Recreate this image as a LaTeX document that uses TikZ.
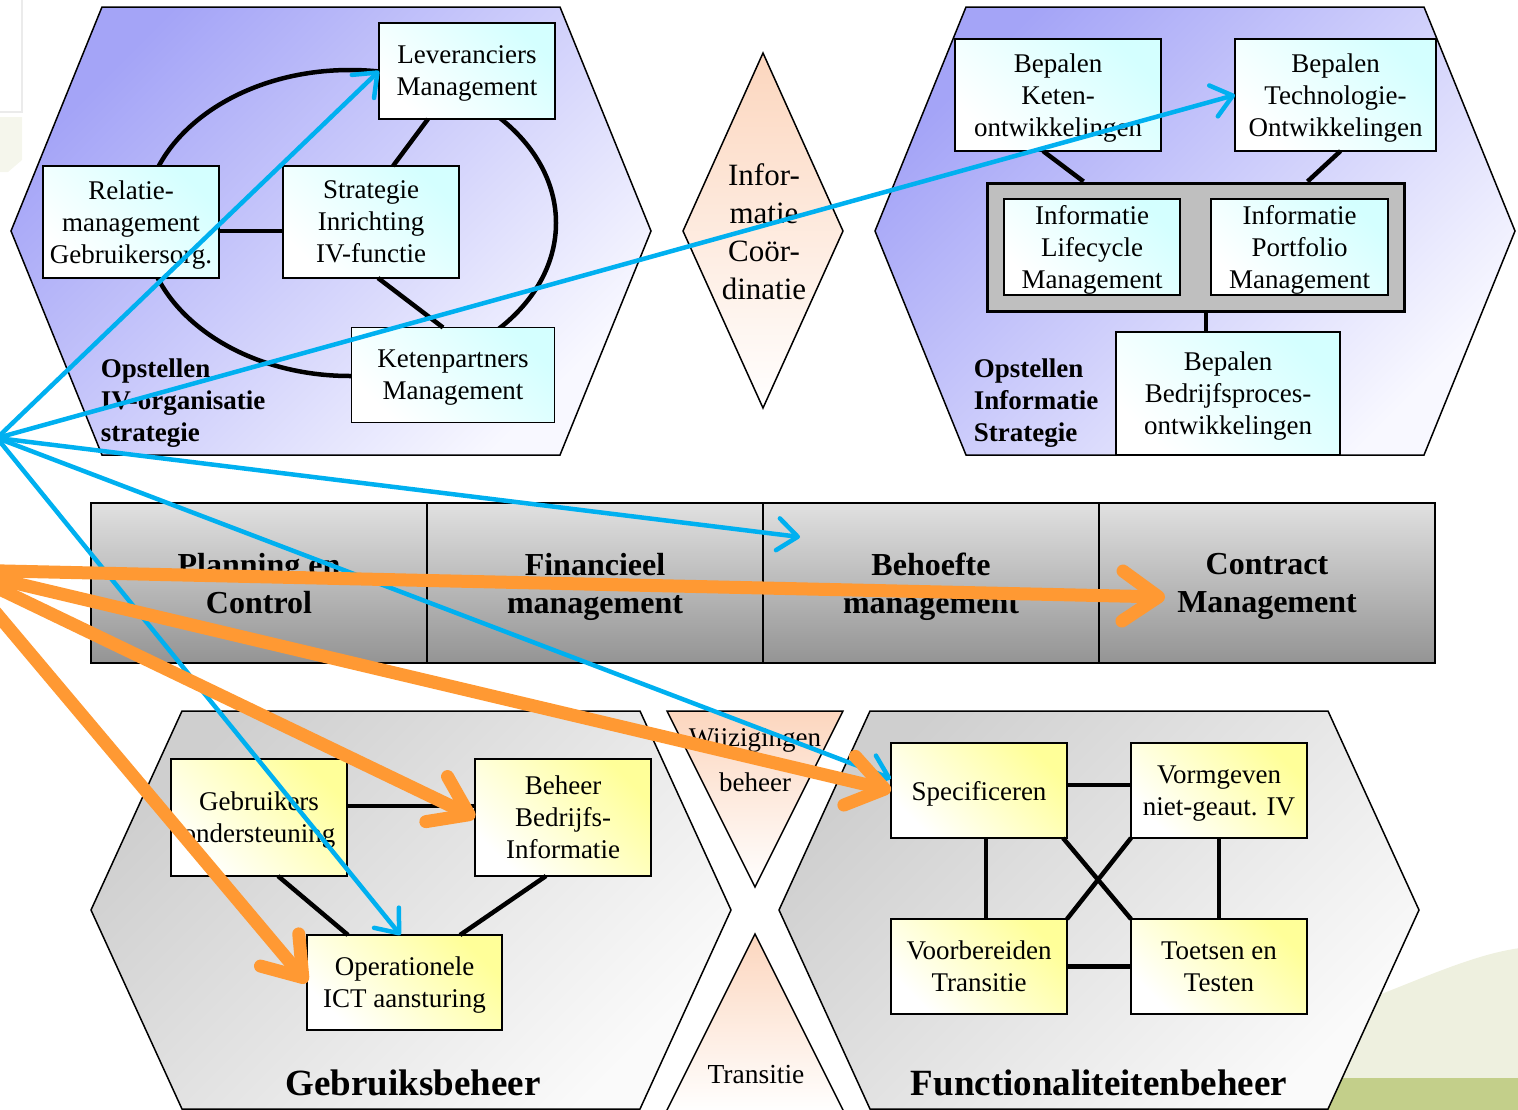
\documentclass[tikz,border=0pt]{standalone}
\usepackage{fontspec}
\setmainfont{Liberation Serif}
\usetikzlibrary{positioning,arrows.meta}
\definecolor{paars}{HTML}{A4A4F7}
\definecolor{lichtpaars}{HTML}{F8F8FF}
\definecolor{grijs}{HTML}{CFCFCF}
\definecolor{lichtgrijs}{HTML}{FAFAFA}
\definecolor{cyaan}{HTML}{D4FFFF}
\definecolor{geel}{HTML}{FFFF99}
\definecolor{perzik}{HTML}{FCD6BE}
\definecolor{blauwpijl}{HTML}{00B0F0}
\definecolor{oranjepijl}{HTML}{FF9933}
\definecolor{lichtgroen}{HTML}{EEF0DF}
\definecolor{groen}{HTML}{C3CF8A}

\tikzset{every picture/.style={line width=1.8pt}}

\begin{document}
\begin{tikzpicture}[x=1pt,y=-1pt,
		vak/.style={shape=rectangle,draw,align=center,inner sep=2pt,outer sep=0pt,
			minimum width=176pt,minimum height=96pt,font=\fontsize{27}{32}\selectfont,text depth=-4pt},
		cvak/.style={vak,top color=cyaan,bottom color=white,shading angle=-45},
		gvak/.style={vak,top color=geel,bottom color=white,shading angle=-45},
		balk/.style={shape=rectangle,draw,outer sep=0pt,minimum width=336pt,minimum height=160pt,
			top color=black!12,bottom color=black!42,align=center,font=\bfseries\fontsize{32}{38}\selectfont,
			text depth=-6pt},
		kop/.style={align=left,inner sep=0pt,font=\bfseries\fontsize{27}{32}\selectfont},
		titel/.style={inner sep=0pt,font=\bfseries\fontsize{37}{40}\selectfont},
		driehoek/.style={draw,line width=1.5pt,top color=perzik,bottom color=white},
		lijn/.style={line width=4.5pt},
		pijlb/.style={draw=blauwpijl,line width=4.5pt,-{Straight Barb[length=20pt,width=32pt,round]}},
		pijlo/.style={draw=oranjepijl,line width=13pt,-{Straight Barb[length=36pt,width=50pt,round]}}
	]
	\useasboundingbox (0,0) rectangle (1518,1109);
	\clip (0,0) rectangle (1518,1109);
	\draw[black!8,line width=1.5pt] (0,112) -- (22,112) -- (22,-2);
	\fill[lichtgroen!60] (0,117) -- (22,117) -- (22,160) -- (8,172) -- (0,172) -- cycle;
	\fill[lichtgroen] (1340,1112) -- (1340,1010) .. controls (1420,980) and (1470,955) .. (1520,948) -- (1520,1112) -- cycle;
	\fill[groen] (1300,1078) rectangle (1520,1112);

	\foreach \mx/\my/\h/\ka/\kb in {331/231/224/paars/lichtpaars,1195/231/224/paars/lichtpaars,
		411/910/199/grijs/lichtgrijs,1099/910/199/grijs/lichtgrijs}
	\draw[line width=1.5pt,top color=\ka,bottom color=\kb,shading angle=45]
	(\mx-229,\my-\h) -- (\mx+229,\my-\h) -- (\mx+320,\my) -- (\mx+229,\my+\h) -- (\mx-229,\my+\h) -- (\mx-320,\my) -- cycle;

	\draw[driehoek] (763,53) -- (843,231) -- (763,408) -- (683,231) -- cycle;
	\draw[driehoek] (667,711) -- (843,711) -- (755,887) -- cycle;
	\draw[driehoek] (755,934) -- (844,1112) -- (666,1112) -- cycle;
	\node[font=\fontsize{31}{38}\selectfont,align=center] (infoc) at (764,232) {Infor-\\matie\\Coör-\\dinatie};
	\node[font=\fontsize{27}{45}\selectfont,align=center] (wijz) at (755,760) {Wijzigingen\\beheer};
	\node[font=\fontsize{27.5}{32}\selectfont,anchor=base] (trans) at (756,1083) {Transitie};

	\draw[lijn] (350,223) ellipse [x radius=206pt,y radius=153pt];

	\node[cvak] (lev) at (467,71) {Leveranciers\\Management};
	\node[cvak,minimum height=112pt] (rel) at (131,222) {Relatie-\\management\\Gebruikersorg.};
	\node[cvak,minimum height=112pt] (str) at (371,222) {Strategie\\Inrichting\\IV-functie};
	\node[cvak,minimum width=203pt,minimum height=95pt] (ket) at (453,375) {Ketenpartners\\Management};
	\draw[lijn] ([yshift=-9pt]rel.east) -- ([yshift=-9pt]str.west);
	\draw[lijn] ([xshift=22pt]str.north) -- ([xshift=-39pt]lev.south);
	\draw[lijn] ([xshift=7pt]str.south) -- ([xshift=-10pt]ket.north);
	\node[kop,anchor=north west] (kopa) at (100,358) {Opstellen\\IV-organisatie\\strategie};

	\node[cvak,minimum width=206pt,minimum height=112pt] (bket) at (1058,95) {Bepalen\\Keten-\\ontwikkelingen};
	\node[cvak,minimum width=201pt,minimum height=112pt] (btech) at (1335.5,95) {Bepalen\\Technologie-\\Ontwikkelingen};
	\node[draw,line width=3pt,fill=black!25,minimum width=417pt,minimum height=128pt] (kader) at (1195.5,247) {};
	\node[cvak] (ilm) at (1092,247) {Informatie\\Lifecycle\\Management};
	\node[cvak,minimum width=177pt] (ipm) at (1299.5,247) {Informatie\\Portfolio\\Management};
	\node[cvak,minimum width=224pt,minimum height=123pt] (bbed) at (1228,393.5) {Bepalen\\Bedrijfsproces-\\ontwikkelingen};
	\draw[lijn] ([xshift=-15pt]bket.south) -- ([xshift=-112pt]kader.north);
	\draw[lijn] ([xshift=5pt]btech.south) -- ([xshift=112pt]kader.north);
	\draw[lijn] ([xshift=10.5pt]kader.south) -- ([xshift=-22pt]bbed.north);
	\node[kop,anchor=north west] (kopb) at (973,358) {Opstellen\\Informatie\\Strategie};

	\node[balk] (pc) at (259,583) {Planning en\\Control};
	\node[balk,right=0pt of pc] (fm) {Financieel\\management};
	\node[balk,right=0pt of fm] (bm) {Behoefte\\management};
	\node[balk,right=0pt of bm] (cm) {Contract\\Management};

	\node[gvak,minimum height=117pt] (geb) at (259,817.5) {Gebruikers\\ondersteuning};
	\node[gvak,minimum height=117pt] (beh) at (563,817.5) {Beheer\\Bedrijfs-\\Informatie};
	\node[gvak,minimum width=195pt,minimum height=95pt] (ope) at (404.5,982.5) {Operationele\\ICT aansturing};
	\draw[lijn] ([yshift=11.5pt]geb.east) -- ([yshift=11.5pt]beh.west);
	\draw[lijn] ([xshift=19pt]geb.south) -- ([xshift=-56.5pt]ope.north);
	\draw[lijn] ([xshift=-17pt]beh.south) -- ([xshift=55.5pt]ope.north);
	\node[titel,anchor=base] (gbtitel) at (413,1095) {Gebruiksbeheer};

	\node[gvak,minimum height=95pt] (spec) at (979,790.5) {Specificeren};
	\node[gvak,minimum height=95pt] (vorm) at (1219,790.5) {Vormgeven\\niet-geaut. IV};
	\node[gvak,minimum height=95pt] (voorb) at (979,966.5) {Voorbereiden\\Transitie};
	\node[gvak,minimum height=95pt] (toets) at (1219,966.5) {Toetsen en\\Testen};
	\draw[lijn] ([yshift=5.5pt]spec.east) -- ([yshift=5.5pt]vorm.west);
	\draw[lijn] (voorb) -- (toets);
	\draw[lijn] ([xshift=7pt]spec.south) -- ([xshift=7pt]voorb.north);
	\draw[lijn] (vorm) -- (toets);
	\draw[lijn] ([xshift=-4pt]spec.south east) -- (toets.north west);
	\draw[lijn] (vorm.south west) -- (voorb.north east);
	\node[titel,anchor=base] (fbtitel) at (1099,1095) {Functionaliteitenbeheer};

	\coordinate (bron) at (-3,438);
	\coordinate (oranjebron) at (-40,570);
	\coordinate (behoefte) at (800,537);
	\coordinate (contract) at (1165,597);
	\draw[pijlb] (bron) -- (lev.west);
	\draw[pijlb] (bron) -- (btech.west);
	\draw[pijlb] (bron) -- (behoefte);
	\draw[pijlb] (bron) -- ([yshift=12pt]spec.west);
	\draw[pijlb] (bron) -- ([xshift=-4pt]ope.north);
	\draw[pijlo] (oranjebron) -- (contract);
	\draw[pijlo] (oranjebron) -- (spec.west);
	\draw[pijlo] (oranjebron) -- (beh.west);
	\draw[pijlo] (oranjebron) -- (ope.west);
\end{tikzpicture}
\end{document}
